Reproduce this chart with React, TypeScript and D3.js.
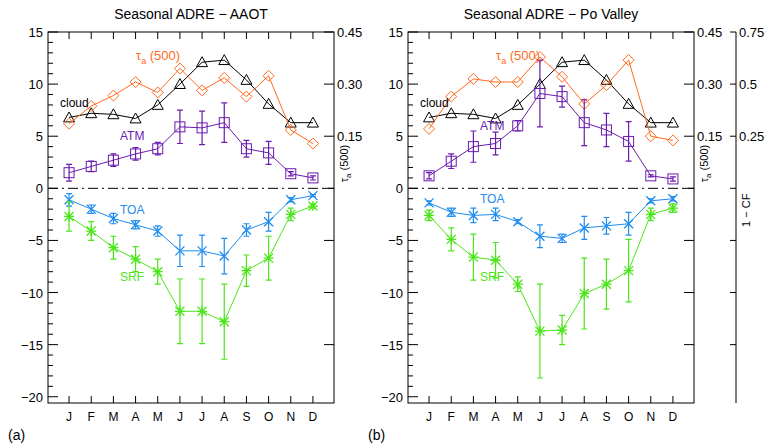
import React from "react";
import * as d3 from "d3";

const months = ["J", "F", "M", "A", "M", "J", "J", "A", "S", "O", "N", "D"];
const leftTicks = [15, 10, 5, 0, -5, -10, -15, -20];
const tauTicks = ["0.45", "0.30", "0.15"];
const cfTicks = ["0.75", "0.5", "0.25"];

// Panel (a) AAOT — values in left-axis units
const tauA = [6.2, 7.9, 8.9, 10.2, 9.2, 11.5, 9.4, 10.6, 8.8, 10.8, 5.6, 4.3];
const cloudA = [6.8, 7.2, 7.1, 6.7, 8.0, 10.0, 12.1, 12.3, 10.4, 8.1, 6.3, 6.3];
const atmA = [1.5, 2.1, 2.7, 3.3, 3.8, 5.9, 5.8, 6.3, 3.8, 3.4, 1.4, 1.0];
const atmErrA = [0.8, 0.5, 0.6, 0.6, 0.6, 1.6, 1.6, 1.9, 0.8, 1.1, 0.2, 0.2];
const toaA = [-1.1, -2.0, -2.9, -3.5, -4.1, -6.0, -6.0, -6.5, -4.0, -3.2, -1.1, -0.7];
const toaErrA = [0.6, 0.4, 0.5, 0.4, 0.5, 1.5, 1.5, 1.7, 0.6, 0.9, 0.2, 0.1];
const srfA = [-2.7, -4.1, -5.7, -6.8, -8.0, -11.8, -11.8, -12.8, -7.9, -6.7, -2.5, -1.7];
const srfErrA = [1.4, 0.9, 1.1, 1.2, 1.2, 3.1, 3.1, 3.6, 1.5, 2.1, 0.6, 0.2];

// Panel (b) Po Valley
const tauB = [5.7, 8.8, 10.5, 10.2, 10.2, 12.6, 10.7, 8.1, 9.9, 12.3, 5.0, 4.6];
const cloudB = [6.8, 7.2, 7.1, 6.7, 8.0, 10.0, 12.1, 12.3, 10.4, 8.1, 6.3, 6.3];
const atmB = [1.2, 2.6, 4.0, 4.3, 6.0, 9.1, 8.8, 6.3, 5.6, 4.5, 1.2, 0.9];
const atmErrB = [0.3, 0.7, 1.5, 1.1, 0.5, 3.2, 1.0, 2.2, 1.6, 1.9, 0.1, 0.2];
const toaB = [-1.4, -2.3, -2.6, -2.5, -3.2, -4.6, -4.8, -3.8, -3.6, -3.4, -1.2, -1.0];
const toaErrB = [0.2, 0.4, 0.7, 0.6, 0.2, 1.1, 0.4, 1.1, 0.8, 1.1, 0.2, 0.2];
const srfB = [-2.6, -4.9, -6.6, -6.9, -9.2, -13.7, -13.6, -10.1, -9.2, -7.9, -2.5, -1.9];
const srfErrB = [0.5, 1.1, 2.2, 1.7, 0.7, 4.5, 1.4, 3.4, 2.4, 3.0, 0.6, 0.4];

const C = { tau: "#ff6a1e", cloud: "#000", atm: "#6a1bb0", toa: "#1e8cf0", srf: "#4be61a" };
const font = "Liberation Sans, Arial, sans-serif";

function Marker({ kind, x, y, color }: { kind: string; x: number; y: number; color: string }) {
  const s = 5.5;
  if (kind === "diamond")
    return <path d={`M${x},${y - s}L${x + s},${y}L${x},${y + s}L${x - s},${y}Z`} fill="none" stroke={color} strokeWidth={1} />;
  if (kind === "triangle")
    return <path d={`M${x},${y - s}L${x + s},${y + s * 0.8}L${x - s},${y + s * 0.8}Z`} fill="none" stroke={color} strokeWidth={1} />;
  if (kind === "square")
    return <rect x={x - 5} y={y - 5} width={10} height={10} fill="none" stroke={color} strokeWidth={1} />;
  if (kind === "x")
    return <path d={`M${x - 4.5},${y - 4.5}L${x + 4.5},${y + 4.5}M${x - 4.5},${y + 4.5}L${x + 4.5},${y - 4.5}`} stroke={color} strokeWidth={1.3} />;
  return (
    <path
      d={`M${x - 4.5},${y - 4.5}L${x + 4.5},${y + 4.5}M${x - 4.5},${y + 4.5}L${x + 4.5},${y - 4.5}M${x - 5},${y}L${x + 5},${y}M${x},${y - 5}L${x},${y + 5}`}
      stroke={color}
      strokeWidth={1.3}
    />
  );
}

function Series({ vals, err, kind, color, x, y }: any) {
  const line = d3.line<number>().x((_, i) => x(i)).y((d) => y(d));
  return (
    <g>
      <path d={line(vals) ?? ""} fill="none" stroke={color} strokeWidth={1} />
      {err &&
        vals.map((v: number, i: number) => (
          <path
            key={"e" + i}
            d={`M${x(i)},${y(v - err[i])}V${y(v + err[i])}M${x(i) - 3},${y(v - err[i])}H${x(i) + 3}M${x(i) - 3},${y(v + err[i])}H${x(i) + 3}`}
            stroke={color}
            strokeWidth={1.2}
            fill="none"
          />
        ))}
      {vals.map((v: number, i: number) => (
        <Marker key={i} kind={kind} x={x(i)} y={y(v)} color={color} />
      ))}
    </g>
  );
}

function Panel({ left, title, tag, d, labels, cf }: any) {
  const x0 = left, x1 = left + 286;
  const x = d3.scaleLinear().domain([-0.95, 11.95]).range([x0, x1]);
  const y = d3.scaleLinear().domain([-20.6, 15]).range([403, 32]);
  const minor = d3.range(-20, 16, 1);
  return (
    <g fontFamily={font}>
      <text x={(x0 + x1) / 2} y={19} textAnchor="middle" fontSize={14}>{title}</text>
      <rect x={x0} y={y(15)} width={x1 - x0} height={403 - y(15)} fill="none" stroke="#000" strokeWidth={1} />
      {minor.map((v) => (
        <line key={v} x1={x0} x2={x0 + (v % 5 === 0 ? 10 : 5)} y1={y(v)} y2={y(v)} stroke="#000" />
      ))}
      {leftTicks.map((v) => (
        <text key={v} x={x0 - 5} y={y(v) + 5} textAnchor="end" fontSize={13}>{v === -20 ? "−20" : v < 0 ? "−" + -v : v}</text>
      ))}
      {[15, 10, 5, 0, -5, -10, -15].map((v) => (
        <line key={v} x1={x1} x2={x1 - 10} y1={y(v)} y2={y(v)} stroke="#000" />
      ))}
      {tauTicks.map((t, i) => (
        <text key={t} x={x1 + 3} y={y(15 - i * 5) + 5} fontSize={13}>{t}</text>
      ))}
      <text transform={`translate(${x1 + 14},${y(0) - 6}) rotate(-90)`} fontSize={11}>
        τ<tspan fontSize={8} dy={3}>a</tspan><tspan dy={-3}> (500)</tspan>
      </text>
      {cf && (
        <g>
          <line x1={736} x2={736} y1={y(15)} y2={403} stroke="#000" />
          {[15, 10, 5, 0, -5, -10, -15].map((v) => (
            <line key={v} x1={736} x2={730} y1={y(v)} y2={y(v)} stroke="#000" />
          ))}
          {cfTicks.map((t, i) => (
            <text key={t} x={739} y={y(15 - i * 5) + 5} fontSize={13}>{t}</text>
          ))}
          <text transform={`translate(750,${y(-3.7)}) rotate(-90)`} fontSize={11}>1 − CF</text>
        </g>
      )}
      {months.map((m, i) => (
        <g key={i}>
          <line x1={x(i)} x2={x(i)} y1={y(15)} y2={y(15) + 7} stroke="#000" />
          <line x1={x(i)} x2={x(i)} y1={403} y2={396} stroke="#000" />
          <text x={x(i)} y={421} textAnchor="middle" fontSize={12}>{m}</text>
        </g>
      ))}
      <line x1={x0} x2={x1} y1={y(0)} y2={y(0)} stroke="#000" strokeDasharray="10,4,2,4" />
      <Series vals={d.cloud} kind="triangle" color={C.cloud} x={x} y={y} />
      <Series vals={d.tau} kind="diamond" color={C.tau} x={x} y={y} />
      <Series vals={d.atm} err={d.atmErr} kind="square" color={C.atm} x={x} y={y} />
      <Series vals={d.toa} err={d.toaErr} kind="x" color={C.toa} x={x} y={y} />
      <Series vals={d.srf} err={d.srfErr} kind="star" color={C.srf} x={x} y={y} />
      <text x={labels.tau[0]} y={labels.tau[1]} fill={C.tau} fontSize={13}>
        τ<tspan fontSize={9} dy={4}>a</tspan><tspan dy={-4}> (500)</tspan>
      </text>
      <text x={labels.cloud[0]} y={labels.cloud[1]} fontSize={12}>cloud</text>
      <text x={labels.atm[0]} y={labels.atm[1]} fill={C.atm} fontSize={12}>ATM</text>
      <text x={labels.toa[0]} y={labels.toa[1]} fill={C.toa} fontSize={12}>TOA</text>
      <text x={labels.srf[0]} y={labels.srf[1]} fill={C.srf} fontSize={12}>SRF</text>
      <text x={left - 40} y={440} fontSize={14}>{tag}</text>
    </g>
  );
}

export default function App() {
  return (
    <svg width={767} height={445} style={{ position: "absolute", left: 0, top: 0, background: "#fff" }}>
      <Panel
        left={48}
        title="Seasonal ADRE − AAOT"
        tag="(a)"
        d={{ tau: tauA, cloud: cloudA, atm: atmA, atmErr: atmErrA, toa: toaA, toaErr: toaErrA, srf: srfA, srfErr: srfErrA }}
        labels={{ tau: [136, 60], cloud: [60, 107], atm: [120, 140], toa: [120, 214], srf: [120, 281] }}
      />
      <Panel
        left={408}
        title="Seasonal ADRE − Po Valley"
        tag="(b)"
        cf
        d={{ tau: tauB, cloud: cloudB, atm: atmB, atmErr: atmErrB, toa: toaB, toaErr: toaErrB, srf: srfB, srfErr: srfErrB }}
        labels={{ tau: [496, 60], cloud: [420, 107], atm: [480, 130], toa: [480, 203], srf: [480, 281] }}
      />
    </svg>
  );
}
